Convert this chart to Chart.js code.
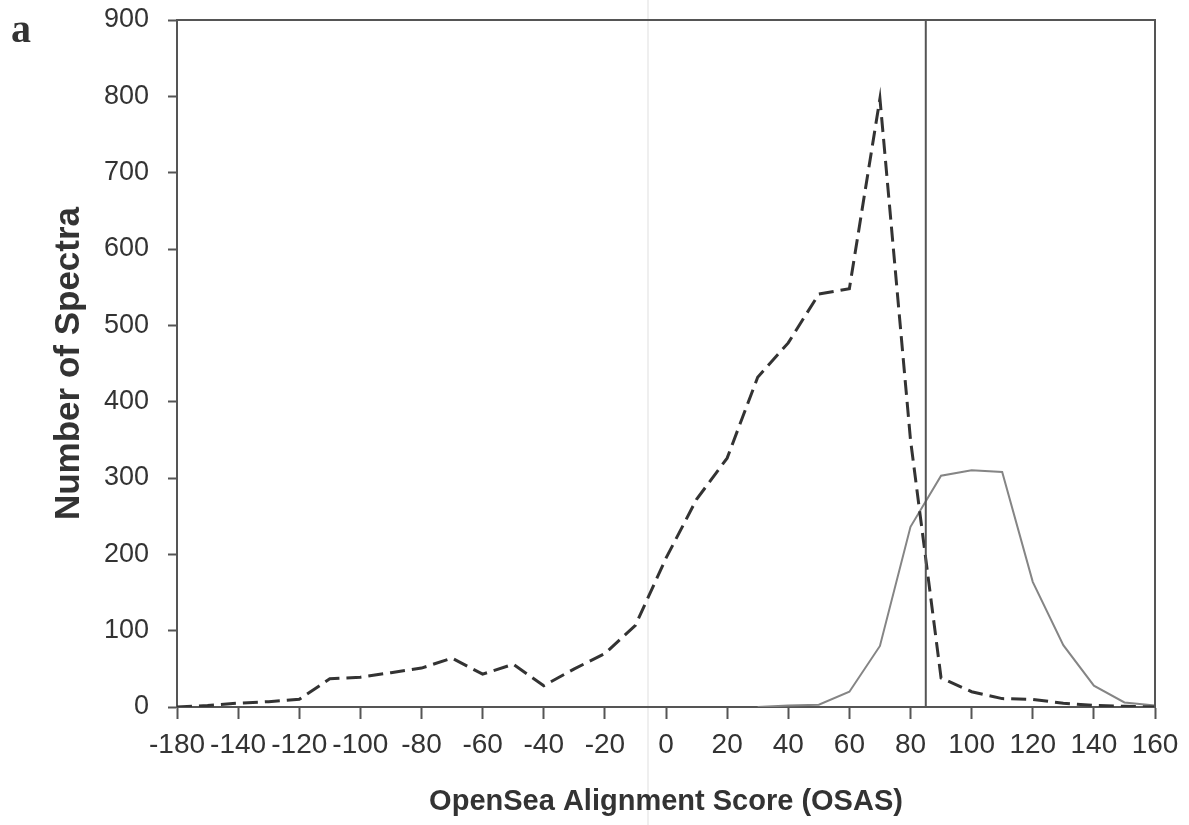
<!DOCTYPE html>
<html>
<head>
<meta charset="utf-8">
<script src="https://cdn.jsdelivr.net/npm/chart.js@4/dist/chart.umd.min.js"></script>
<style>
html,body{margin:0;padding:0;background:#fff;}
#wrap{position:relative;width:1189px;height:825px;overflow:hidden;}
#fold{position:absolute;left:647px;top:0;width:2px;height:825px;background:#efefef;}
#c{position:absolute;left:0;top:0;}
#panel{position:absolute;left:11px;top:9px;font:bold 40px 'Liberation Serif','Times New Roman',serif;line-height:40px;color:#333;}
</style>
</head>
<body>
<div id="wrap">
  <div id="fold"></div>
  <canvas id="c" width="1189" height="825"></canvas>
  <div id="panel">a</div>
</div>
<script>
// Score bins (category positions along the x axis); tick labels are shown on every other bin
const osasBins = ['-180','-160','-140','-130','-120','-110','-100','-90','-80','-70','-60','-50','-40','-30','-20','-10',
                  '0','10','20','30','40','50','60','70','80','90','100','110','120','130','140','150','160'];
// dashed series
const dashedCounts = [0, 2, 5, 7, 10, 37, 39, 45, 51, 64, 43, 56, 28, 50, 70, 107,
                      195, 272, 326, 432, 477, 541, 548, 797, 350, 38, 20, 11, 10, 5, 2, 1, 0];
// solid series
const solidCounts = [null, null, null, null, null, null, null, null, null, null, null, null, null, null, null, null,
                     null, null, null, 0, 2, 3, 20, 80, 236, 303, 310, 308, 164, 81, 28, 6, 2];
// threshold score marked by the vertical line
const thresholdScore = 85;
const yTicks = [0, 100, 200, 300, 400, 500, 600, 700, 800, 900];

const binIndexOfScore = s => osasBins.indexOf('-140') + (s - (-140)) / 10;
const thrIdx = binIndexOfScore(thresholdScore);

const toPts = arr => arr.map((v, i) => ({x: i, y: v}));

const frame = {
  id: 'frame',
  afterDatasetsDraw(chart) {
    const {ctx, chartArea: a} = chart;
    ctx.save();
    ctx.strokeStyle = '#555';
    ctx.lineWidth = 2;
    ctx.beginPath();
    ctx.moveTo(a.left, a.top);
    ctx.lineTo(a.right, a.top);
    ctx.lineTo(a.right, a.bottom);
    ctx.stroke();
    ctx.restore();
  }
};

const FONT = "'Liberation Sans', Arial, sans-serif";

new Chart(document.getElementById('c'), {
  type: 'line',
  data: {
    datasets: [
      {
        data: [{x: thrIdx, y: yTicks[0]}, {x: thrIdx, y: yTicks[yTicks.length - 1]}],
        borderColor: '#555', borderWidth: 2, pointRadius: 0
      },
      {
        data: toPts(dashedCounts),
        borderColor: '#333', borderWidth: 3, borderDash: [15, 7], pointRadius: 0, tension: 0
      },
      {
        data: toPts(solidCounts),
        borderColor: '#858585', borderWidth: 2, pointRadius: 0, tension: 0, spanGaps: false
      }
    ]
  },
  options: {
    responsive: false,
    animation: false,
    devicePixelRatio: 1,
    layout: {padding: {top: 20, right: 34, left: 0, bottom: 0}},
    plugins: {legend: {display: false}, tooltip: {enabled: false}},
    scales: {
      x: {
        type: 'linear',
        min: 0,
        max: osasBins.length - 1,
        afterFit: s => { s.height = 825 - 707; s.paddingLeft = 0; s.paddingRight = 0; },
        afterBuildTicks: s => { s.ticks = osasBins.map((b, i) => ({value: i})).filter(t => t.value % 2 === 0); },
        ticks: {
          callback: v => osasBins[v],
          autoSkip: false, maxRotation: 0, minRotation: 0,
          font: {family: FONT, size: 28}, color: '#333', padding: 9
        },
        grid: {drawOnChartArea: false, drawTicks: true, tickLength: 12, tickColor: '#555', tickWidth: 2},
        border: {display: true, color: '#555', width: 2},
        title: {
          display: true, text: 'OpenSea Alignment Score (OSAS)',
          font: {family: FONT, size: 29, weight: 'bold'}, color: '#333',
          padding: {top: 0, bottom: 6}
        }
      },
      y: {
        min: 0, max: 900,
        afterFit: s => { s.width = 177; s.paddingTop = 0; s.paddingBottom = 0; },
        afterBuildTicks: s => { s.ticks = yTicks.map(v => ({value: v})); },
        ticks: {font: {family: FONT, size: 27}, color: '#333', padding: 19},
        grid: {drawOnChartArea: false, drawTicks: true, tickLength: 9, tickColor: '#555', tickWidth: 2},
        border: {display: true, color: '#555', width: 2},
        title: {
          display: true, text: 'Number of Spectra',
          font: {family: FONT, size: 35, weight: 'bold'}, color: '#333',
          padding: {top: 48, bottom: 0}
        }
      }
    }
  },
  plugins: [frame]
});
</script>
</body>
</html>
